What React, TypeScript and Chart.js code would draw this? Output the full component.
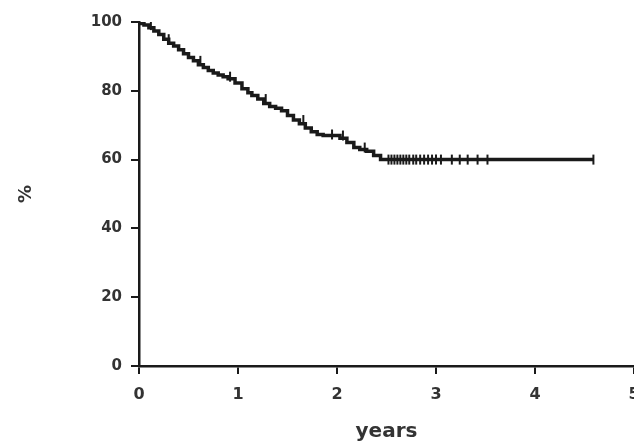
import React, { useEffect, useRef } from "react";
import { Chart, registerables } from "chart.js";

Chart.register(...registerables);

// Kaplan-Meier step curve: event times (years) and survival (%) after each event
const eventTimes = [
  0, 0.05, 0.1, 0.15, 0.2, 0.25, 0.3, 0.35, 0.4, 0.45, 0.5, 0.55, 0.6, 0.65,
  0.7, 0.75, 0.8, 0.85, 0.9, 0.97, 1.04, 1.1, 1.14, 1.2, 1.26, 1.32, 1.38,
  1.44, 1.5, 1.56, 1.62, 1.68, 1.74, 1.8, 1.86, 2.03, 2.1, 2.17, 2.23, 2.3,
  2.37, 2.44, 2.5,
];
const survival = [
  100, 99.6, 99.1, 98.3, 97.4, 96.4, 95.0, 93.8, 93.0, 91.9, 90.8, 89.7, 88.7,
  87.6, 86.8, 85.9, 85.2, 84.6, 84.1, 83.5, 82.3, 80.6, 79.4, 78.6, 77.6, 76.3,
  75.4, 74.9, 74.2, 72.8, 71.5, 70.4, 69.2, 68.1, 67.3, 67.0, 66.2, 65.0, 63.5,
  62.9, 62.4, 61.2, 60.0,
];
const lastFollowUp = 4.59;

// censored observations (years)
const censorTimes = [
  0.12, 0.3, 0.62, 0.92, 1.28, 1.66, 1.95, 2.06, 2.28, 2.52, 2.55, 2.58, 2.61,
  2.64, 2.67, 2.7, 2.73, 2.77, 2.8, 2.84, 2.88, 2.92, 2.96, 3.0, 3.05, 3.16,
  3.24, 3.32, 3.42, 3.52, 4.59,
];

const xTicks = [0, 1, 2, 3, 4, 5];
const yTicks = [0, 20, 40, 60, 80, 100];

const xTitle = "years";
const yTitle = "%";

function survivalAt(t: number): number {
  let s = survival[0];
  for (let i = 0; i < eventTimes.length; i++) {
    if (eventTimes[i] <= t) s = survival[i];
  }
  return s;
}

const INK = "#1a1a1a";
const TEXT = "#333333";
const FONT = "'DejaVu Sans', Arial, sans-serif";

export default function App() {
  const ref = useRef<HTMLCanvasElement | null>(null);

  useEffect(() => {
    if (!ref.current) return;
    const lineData = eventTimes.map((t, i) => ({ x: t, y: survival[i] }));
    lineData.push({ x: lastFollowUp, y: survival[survival.length - 1] });
    const censorData = censorTimes.map((t) => ({ x: t, y: survivalAt(t) }));

    const chart = new Chart(ref.current, {
      type: "line",
      data: {
        datasets: [
          {
            data: lineData,
            stepped: "after",
            borderColor: INK,
            borderWidth: 3.5,
            pointRadius: 0,
            fill: false,
          },
          {
            type: "scatter",
            data: censorData,
            showLine: false,
            pointStyle: "line",
            rotation: 90,
            pointRadius: 5,
            borderColor: INK,
            borderWidth: 2,
            backgroundColor: INK,
          } as any,
        ],
      },
      options: {
        animation: false,
        responsive: false,
        maintainAspectRatio: false,
        layout: { padding: { left: 0, top: 22, right: 36, bottom: 0 } },
        plugins: { legend: { display: false }, tooltip: { enabled: false } },
        scales: {
          x: {
            type: "linear",
            min: 0,
            max: 5,
            afterBuildTicks: (s: any) => {
              s.ticks = xTicks.map((v) => ({ value: v }));
            },
            afterFit: (s: any) => {
              s.height = 80;
              s.paddingLeft = 0;
              s.paddingRight = 0;
            },
            grid: {
              display: true,
              drawOnChartArea: false,
              drawTicks: true,
              tickLength: 8,
              tickColor: INK,
              lineWidth: 2,
            },
            border: { display: true, color: INK, width: 2.5 },
            ticks: {
              autoSkip: false,
              maxRotation: 0,
              padding: 11,
              color: TEXT,
              font: { family: FONT, size: 16, weight: "bold" },
            },
            title: {
              display: true,
              text: xTitle,
              color: TEXT,
              font: { family: FONT, size: 20, weight: "bold" },
              padding: { top: 0, bottom: 2 },
            },
          },
          y: {
            type: "linear",
            min: 0,
            max: 100,
            afterBuildTicks: (s: any) => {
              s.ticks = yTicks.map((v) => ({ value: v }));
            },
            afterFit: (s: any) => {
              s.width = 139;
              s.paddingTop = 0;
              s.paddingBottom = 0;
            },
            grid: {
              display: true,
              drawOnChartArea: false,
              drawTicks: true,
              tickLength: 8,
              tickColor: INK,
              lineWidth: 2,
            },
            border: { display: true, color: INK, width: 2.5 },
            ticks: {
              autoSkip: false,
              padding: 9,
              color: TEXT,
              font: { family: FONT, size: 15, weight: "bold" },
            },
            title: {
              display: true,
              text: yTitle,
              color: TEXT,
              font: { family: FONT, size: 18, weight: "bold" },
              padding: { top: 16, bottom: 0 },
            },
          },
        },
      },
    });
    return () => chart.destroy();
  }, []);

  return (
    <div
      style={{
        position: "fixed",
        left: 0,
        top: 0,
        width: 634,
        height: 446,
        overflow: "hidden",
        background: "#fff",
      }}
    >
      <canvas
        ref={ref}
        width={670}
        height={446}
        style={{ display: "block", width: 670, height: 446, filter: "blur(0.6px)" }}
      />
    </div>
  );
}
